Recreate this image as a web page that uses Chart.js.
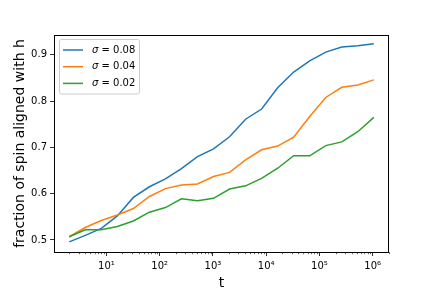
<!DOCTYPE html>
<html>
<head>
<meta charset="utf-8">
<script src="https://cdn.jsdelivr.net/npm/chart.js@4.4.0/dist/chart.umd.min.js"></script>
<style>
  html, body { margin: 0; padding: 0; background: #fff; }
  #wrap { width: 432px; height: 288px; }
</style>
</head>
<body>
<div id="wrap"><canvas id="chart" width="432" height="288"></canvas></div>
<script>
// time steps (t = 2^k)
const tValues = [2, 4, 8, 16, 32, 64, 128, 256, 512, 1024, 2048, 4096, 8192,
    16384, 32768, 65536, 131072, 262144, 524288, 1048576];

// fraction of spin aligned with h
const sigma008 = [0.496, 0.510, 0.525, 0.552, 0.592, 0.615, 0.632, 0.654, 0.680, 0.697,
    0.723, 0.761, 0.783, 0.829, 0.863, 0.887, 0.906, 0.917, 0.920, 0.924];
const sigma004 = [0.507, 0.527, 0.542, 0.554, 0.568, 0.594, 0.611, 0.619, 0.621, 0.637,
    0.646, 0.673, 0.695, 0.703, 0.722, 0.767, 0.808, 0.830, 0.835, 0.846];
const sigma002 = [0.507, 0.522, 0.522, 0.529, 0.541, 0.560, 0.570, 0.589, 0.585, 0.590,
    0.610, 0.617, 0.633, 0.655, 0.682, 0.682, 0.704, 0.712, 0.734, 0.765];

const seriesLabels = ['0.08', '0.04', '0.02'];
const seriesColors = ['#1f77b4', '#ff7f0e', '#2ca02c'];

const xTicks = [10, 100, 1000, 10000, 100000, 1000000];
const yTicks = [0.5, 0.6, 0.7, 0.8, 0.9];

const FONT = 'DejaVu Sans';
const sup = { '0': '\u2070', '1': '\u00b9', '2': '\u00b2', '3': '\u00b3', '4': '\u2074',
    '5': '\u2075', '6': '\u2076', '7': '\u2077', '8': '\u2078', '9': '\u2079' };

function toPoints(ys) {
    return ys.map((y, i) => ({ x: tValues[i], y: y }));
}

// frame, minor ticks, axis titles and legend in matplotlib style
const decorations = {
    id: 'decorations',
    afterDraw(chart) {
        const ctx = chart.ctx;
        const a = chart.chartArea;
        const xs = chart.scales.x;
        ctx.save();

        // minor ticks on the log axis
        ctx.strokeStyle = '#000';
        ctx.lineWidth = 0.6;
        for (let d = 1; d <= 1e6; d *= 10) {
            for (let m = 2; m <= 9; m++) {
                const v = d * m;
                if (v < xs.min || v > xs.max) continue;
                const px = Math.round(xs.getPixelForValue(v)) + 0.5;
                ctx.beginPath();
                ctx.moveTo(px, a.bottom);
                ctx.lineTo(px, a.bottom + 2.2);
                ctx.stroke();
            }
        }

        // frame
        ctx.lineWidth = 1;
        ctx.strokeStyle = '#000';
        ctx.strokeRect(Math.round(a.left) + 0.5, Math.round(a.top) + 0.5,
            Math.round(a.right - a.left) - 1, Math.round(a.bottom - a.top));

        // axis titles
        ctx.fillStyle = '#000';
        ctx.font = '14px "' + FONT + '"';
        ctx.textAlign = 'center';
        ctx.textBaseline = 'alphabetic';
        ctx.fillText('t', (a.left + a.right) / 2, 287);
        ctx.save();
        ctx.translate(24, (a.top + a.bottom) / 2);
        ctx.rotate(-Math.PI / 2);
        ctx.fillText('fraction of spin aligned with h', 0, 0);
        ctx.restore();

        // legend
        const bx = 59.5, by = 39.5, bw = 80, bh = 54.5;
        ctx.beginPath();
        ctx.roundRect(bx, by, bw, bh, 2);
        ctx.fillStyle = 'rgba(255,255,255,0.8)';
        ctx.fill();
        ctx.strokeStyle = '#cccccc';
        ctx.lineWidth = 1;
        ctx.stroke();
        ctx.textAlign = 'left';
        ctx.textBaseline = 'middle';
        seriesLabels.forEach((lab, i) => {
            const ly = 50 + i * 16.7;
            ctx.strokeStyle = seriesColors[i];
            ctx.lineWidth = 1.5;
            ctx.beginPath();
            ctx.moveTo(63, ly);
            ctx.lineTo(83, ly);
            ctx.stroke();
            ctx.fillStyle = '#000';
            ctx.font = 'italic 10px "' + FONT + '"';
            ctx.fillText('\u03c3', 92, ly);
            const w = ctx.measureText('\u03c3').width;
            ctx.font = '10px "' + FONT + '"';
            ctx.fillText(' = ' + lab, 92 + w, ly);
        });
        ctx.restore();
    }
};

const datasets = [sigma008, sigma004, sigma002].map((ys, i) => ({
    label: '\u03c3 = ' + seriesLabels[i],
    data: toPoints(ys),
    borderColor: seriesColors[i],
    backgroundColor: seriesColors[i],
    borderWidth: 1.5,
    pointRadius: 0,
    tension: 0,
    fill: false,
    order: 3 - i
}));

new Chart(document.getElementById('chart'), {
    type: 'line',
    data: { datasets: datasets },
    options: {
        responsive: false,
        animation: false,
        devicePixelRatio: 1,
        layout: { padding: { top: 35, right: 43, left: 0, bottom: 0 } },
        plugins: {
            legend: { display: false },
            tooltip: { enabled: false }
        },
        scales: {
            x: {
                type: 'logarithmic',
                min: 1.035,
                max: 2.02e6,
                afterBuildTicks: (scale) => { scale.ticks = xTicks.map(v => ({ value: v })); },
                afterFit: (scale) => { scale.height = 36; },
                ticks: {
                    autoSkip: false,
                    maxRotation: 0,
                    padding: 4,
                    color: '#000',
                    font: { family: FONT, size: 10 },
                    callback: (v) => '10' + String(Math.round(Math.log10(v))).split('').map(c => sup[c]).join('')
                },
                grid: { drawOnChartArea: false, drawTicks: true, tickLength: 4, tickColor: '#000', tickWidth: 0.8 },
                border: { display: false }
            },
            y: {
                type: 'linear',
                min: 0.474,
                max: 0.943,
                afterBuildTicks: (scale) => { scale.ticks = yTicks.map(v => ({ value: v })); },
                afterFit: (scale) => { scale.width = 54; },
                ticks: {
                    padding: 3,
                    color: '#000',
                    font: { family: FONT, size: 10 },
                    callback: (v) => v.toFixed(1)
                },
                grid: { drawOnChartArea: false, drawTicks: true, tickLength: 4, tickColor: '#000', tickWidth: 0.8 },
                border: { display: false }
            }
        }
    },
    plugins: [decorations]
});
</script>
</body>
</html>
